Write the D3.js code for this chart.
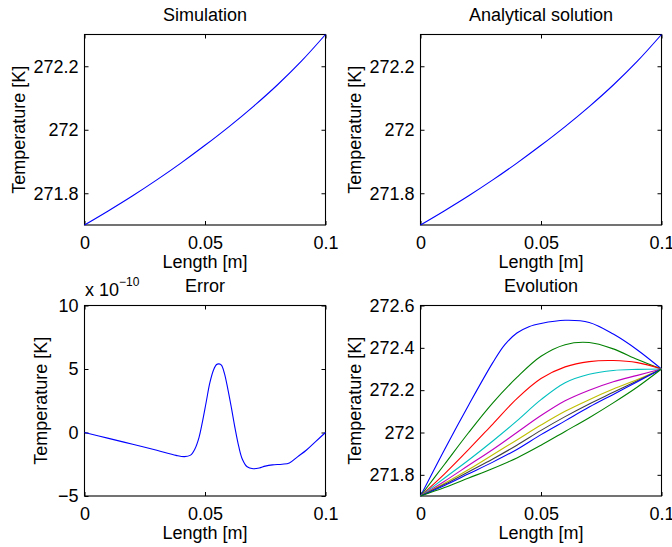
<!DOCTYPE html>
<html>
<head>
<meta charset="utf-8">
<script src="https://cdn.jsdelivr.net/npm/d3@7"></script>
<style>
  html, body { margin: 0; padding: 0; background: #fff; }
  svg { display: block; }
  text { font-family: "Liberation Sans", Arial, Helvetica, sans-serif; fill: #000; }
</style>
</head>
<body>
<svg id="chart" width="672" height="547"></svg>
<script>
// ---------------- data ----------------
const titles = ["Simulation", "Analytical solution", "Error", "Evolution"];
const xLabel = "Length [m]";
const yLabel = "Temperature [K]";

const xTicks = [0, 0.05, 0.1];
const xTickLabels = ["0", "0.05", "0.1"];
const tempTicks = [271.8, 272, 272.2];
const tempTickLabels = ["271.8", "272", "272.2"];
const errTicks = [-5, 0, 5, 10];
const errTickLabels = ["\u22125", "0", "5", "10"];
const evoTicks = [271.8, 272, 272.2, 272.4, 272.6];
const evoTickLabels = ["271.8", "272", "272.2", "272.4", "272.6"];

const gridX = [0, 0.01, 0.02, 0.03, 0.04, 0.05, 0.06, 0.07, 0.08, 0.09, 0.1];

const simulationT = [271.700, 271.745, 271.792, 271.842, 271.895, 271.951, 272.010, 272.073, 272.141, 272.216, 272.300];
const analyticalT = [271.700, 271.745, 271.792, 271.842, 271.895, 271.951, 272.010, 272.073, 272.141, 272.216, 272.300];

const errX = [0, 0.01, 0.02, 0.03, 0.038, 0.0415, 0.044, 0.0458, 0.0475, 0.049, 0.0505, 0.052, 0.0535, 0.0548, 0.0558, 0.0568, 0.058, 0.0595, 0.061, 0.0625, 0.064, 0.0655, 0.0675, 0.07, 0.0725, 0.075, 0.078, 0.082, 0.085, 0.0885, 0.092, 0.096, 0.1];
const errY = [0, -0.46, -0.93, -1.4, -1.8, -1.9, -1.78, -1.3, -0.4, 0.9, 2.4, 3.9, 4.9, 5.35, 5.4, 5.3, 4.7, 3.4, 1.9, 0.3, -1.1, -2.1, -2.7, -2.85, -2.8, -2.65, -2.55, -2.5, -2.4, -1.9, -1.4, -0.7, 0];
const errExponent = "\u221210";

const evoColors = ["#0000ff", "#008000", "#ff0000", "#00bfbf", "#bf00bf", "#bfbf00", "#404040", "#0000ff", "#008000"];
const evo1X = [0, 0.01, 0.02, 0.03, 0.035, 0.04, 0.045, 0.05, 0.06, 0.07, 0.08, 0.09, 0.1];
const evo1 = [271.70, 271.92, 272.13, 272.33, 272.415, 272.47, 272.50, 272.515, 272.53, 272.52, 272.465, 272.39, 272.30];
const evo2 = [271.70, 271.85, 272.00, 272.14, 272.26, 272.36, 272.415, 272.425, 272.395, 272.345, 272.30];
const evo3 = [271.70, 271.805, 271.92, 272.04, 272.16, 272.255, 272.31, 272.335, 272.34, 272.33, 272.30];
const evo4 = [271.70, 271.785, 271.87, 271.96, 272.055, 272.155, 272.235, 272.275, 272.293, 272.298, 272.30];
const evo5 = [271.70, 271.77, 271.845, 271.92, 272.00, 272.08, 272.15, 272.20, 272.24, 272.27, 272.30];
const evo6 = [271.70, 271.76, 271.825, 271.895, 271.965, 272.035, 272.10, 272.155, 272.205, 272.25, 272.30];
const evo7 = [271.70, 271.755, 271.815, 271.875, 271.94, 272.01, 272.075, 272.135, 272.19, 272.245, 272.30];
const evo8 = [271.70, 271.75, 271.805, 271.86, 271.92, 271.99, 272.055, 272.12, 272.18, 272.24, 272.30];
const evo9 = [271.70, 271.74, 271.785, 271.83, 271.88, 271.94, 272.005, 272.07, 272.14, 272.215, 272.30];
const evoSeries = [evo1, evo2, evo3, evo4, evo5, evo6, evo7, evo8, evo9];
const evoXs = [evo1X, gridX, gridX, gridX, gridX, gridX, gridX, gridX, gridX];

// ---------------- layout ----------------
const svg = d3.select("#chart");
const FS = 18;

function panel(opt) {
  const { left, top, width, height, yDomain, yTicks, yTickLabels, title, ylabelX, titleBaseline } = opt;
  const g = svg.append("g");
  const x = d3.scaleLinear().domain([0, 0.1]).range([left, left + width]);
  const y = d3.scaleLinear().domain(yDomain).range([top + height, top]);

  g.append("rect").attr("x", left).attr("y", top).attr("width", width).attr("height", height)
    .attr("fill", "none").attr("stroke", "#000").attr("stroke-width", 1.1);

  const xb = d3.axisBottom(x).tickValues(xTicks).tickFormat((d, i) => xTickLabels[i]).tickSize(-4).tickPadding(11.2);
  const gxb = g.append("g").attr("transform", `translate(0,${top + height})`).call(xb);
  const xt = d3.axisTop(x).tickValues(xTicks).tickFormat("").tickSize(-4);
  const gxt = g.append("g").attr("transform", `translate(0,${top})`).call(xt);
  const yl = d3.axisLeft(y).tickValues(yTicks).tickFormat((d, i) => yTickLabels[i]).tickSize(-4).tickPadding(6);
  const gyl = g.append("g").attr("transform", `translate(${left},0)`).call(yl);
  const yr = d3.axisRight(y).tickValues(yTicks).tickFormat("").tickSize(-4);
  const gyr = g.append("g").attr("transform", `translate(${left + width},0)`).call(yr);
  [gxb, gxt, gyl, gyr].forEach(a => {
    a.select(".domain").remove();
    a.selectAll("line").attr("stroke", "#000").attr("stroke-width", 1);
    a.selectAll("text").attr("font-size", FS).attr("font-family", '"Liberation Sans", Arial, sans-serif').attr("fill", "#000");
  });

  g.append("text").attr("x", left + width / 2).attr("y", top + height + 42.5)
    .attr("text-anchor", "middle").attr("font-size", FS).text(xLabel);
  g.append("text").attr("transform", `translate(${ylabelX},${top + height / 2}) rotate(-90)`)
    .attr("text-anchor", "middle").attr("font-size", FS).text(yLabel);
  g.append("text").attr("x", left + width / 2).attr("y", titleBaseline)
    .attr("text-anchor", "middle").attr("font-size", FS).text(title);

  return { g, x, y };
}

const L1 = 84.5, L2 = 420.5, W = 241, T1 = 34.5, H1 = 190.5, T2 = 305.5, H2 = 190.5;

const line = (x, y, xs) => d3.line().x((d, i) => x(xs[i])).y(d => y(d)).curve(d3.curveCatmullRom.alpha(0.5));

{
  const p = panel({ left: L1, top: T1, width: W, height: H1, yDomain: [271.7, 272.3], yTicks: tempTicks, yTickLabels: tempTickLabels, title: titles[0], ylabelX: 24.5, titleBaseline: 20.8 });
  p.g.append("path").datum(simulationT).attr("d", line(p.x, p.y, gridX)).attr("fill", "none").attr("stroke", "#0000ff").attr("stroke-width", 1.1);
}
{
  const p = panel({ left: L2, top: T1, width: W, height: H1, yDomain: [271.7, 272.3], yTicks: tempTicks, yTickLabels: tempTickLabels, title: titles[1], ylabelX: 360.5, titleBaseline: 20.8 });
  p.g.append("path").datum(analyticalT).attr("d", line(p.x, p.y, gridX)).attr("fill", "none").attr("stroke", "#0000ff").attr("stroke-width", 1.1);
}
{
  const p = panel({ left: L1, top: T2, width: W, height: H2, yDomain: [-5, 10], yTicks: errTicks, yTickLabels: errTickLabels, title: titles[2], ylabelX: 47, titleBaseline: 291.7 });
  p.g.append("path").datum(errY).attr("d", line(p.x, p.y, errX)).attr("fill", "none").attr("stroke", "#0000ff").attr("stroke-width", 1.1);
  const t = p.g.append("text").attr("x", 85).attr("y", 296).attr("font-size", FS);
  t.append("tspan").text("x 10");
  t.append("tspan").attr("dy", -10).attr("font-size", 12).text(errExponent);
}
{
  const p = panel({ left: L2, top: T2, width: W, height: H2, yDomain: [271.7, 272.6], yTicks: evoTicks, yTickLabels: evoTickLabels, title: titles[3], ylabelX: 360.5, titleBaseline: 291.7 });
  evoSeries.forEach((s, k) => {
    p.g.append("path").datum(s).attr("d", line(p.x, p.y, evoXs[k])).attr("fill", "none").attr("stroke", evoColors[k]).attr("stroke-width", 1.1);
  });
}
</script>
</body>
</html>
